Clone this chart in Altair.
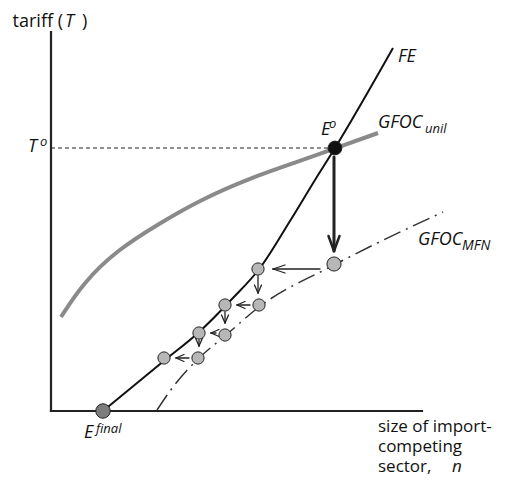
import altair as alt
import pandas as pd
import numpy as np

# ---- data (arbitrary units: n = size of import-competing sector, T = tariff) ----
fe_n = [52, 114, 147, 181, 209, 239, 264, 284, 342]
fe_T = [0, 51, 78, 112, 143, 190, 231, 263, 363]

mfn_n = [106, 119, 147, 174, 208, 283, 392]
mfn_T = [1, 20, 52, 75, 104, 146, 199]

unil_n = [10, 32, 66, 109, 149, 199, 249, 285, 327]
unil_T = [94, 128, 161, 188, 211, 233, 250, 263, 278]

# adjustment path: points on FE and on GFOC_MFN
fe_pts_n = [207, 174, 148, 113]
fe_pts_T = [142, 106, 78, 53]
mfn_pts_n = [283, 208, 174, 147]
mfn_pts_T = [147, 106, 76, 53]

eo_n, eo_T = 284, 263
efin_n, efin_T = 52, 0

axis_n_max = 371
axis_T_max = 379

FONT = "Open Sans"

xs = alt.Scale(domain=[-43, 450])
ys = alt.Scale(domain=[-66, 403])


def seg_df(segs):
    return pd.DataFrame(segs, columns=["x", "y", "x2", "y2", "w"])


def arrow(sx, sy, tx, ty, w, L, W, hw):
    d = np.array([tx - sx, ty - sy], dtype=float)
    d /= np.linalg.norm(d)
    p = np.array([-d[1], d[0]])
    back = np.array([tx, ty]) - L * d
    a = back + W * p
    b = back - W * p
    return [
        (sx, sy, tx, ty, w),
        (tx, ty, a[0], a[1], hw),
        (tx, ty, b[0], b[1], hw),
    ]


segs = []
# big arrow E0 -> first MFN point
segs += arrow(mfn_pts_n[0], eo_T - 9, mfn_pts_n[0], mfn_pts_T[0] + 13, 3, 15, 5.5, 2.5)
for k in range(len(fe_pts_n)):
    big = k == 0
    # left arrow: MFN point k -> FE point k
    segs += arrow(mfn_pts_n[k] - (14 if big else 9), fe_pts_T[k],
                  fe_pts_n[k] + (15 if big else 12), fe_pts_T[k],
                  1.3, 12 if big else 8, 4 if big else 3.5, 1.3)
    # down arrow: FE point k -> MFN point k+1
    if k + 1 < len(mfn_pts_n):
        segs += arrow(fe_pts_n[k], fe_pts_T[k] - 7, fe_pts_n[k], mfn_pts_T[k + 1] + 12,
                      1.3, 8, 3.5, 1.3)
arrows = seg_df(segs)

axes_df = seg_df([(0, 0, 0, axis_T_max, 2.2), (0, 0, axis_n_max, 0, 2.2)])
dash_df = seg_df([(0, eo_T, eo_n, eo_T, 1.2)])

enc_seg = dict(
    x=alt.X("x:Q", scale=xs, axis=None),
    y=alt.Y("y:Q", scale=ys, axis=None),
    x2="x2:Q", y2="y2:Q",
    strokeWidth=alt.StrokeWidth("w:Q", scale=None),
)

axes_layer = alt.Chart(axes_df).mark_rule(color="#222", strokeCap="square").encode(**enc_seg)
dash_layer = alt.Chart(dash_df).mark_rule(color="#222", strokeDash=[4, 3]).encode(**enc_seg)
arrow_layer = alt.Chart(arrows).mark_rule(color="#222", strokeCap="round").encode(**enc_seg)


def curve(n, T, interp, **kw):
    df = pd.DataFrame({"n": n, "T": T, "o": range(len(n))})
    return alt.Chart(df).mark_line(interpolate=interp, **kw).encode(
        x=alt.X("n:Q", scale=xs, axis=None),
        y=alt.Y("T:Q", scale=ys, axis=None),
        order="o:Q",
    )


unil_layer = curve(unil_n, unil_T, "basis", color="#8a8a8a", strokeWidth=4)
mfn_layer = curve(mfn_n, mfn_T, "monotone", color="#333", strokeWidth=1.5,
                  strokeDash=[18, 6, 2, 6])
fe_layer = curve(fe_n, fe_T, "monotone", color="#111", strokeWidth=2)

pts = pd.DataFrame({
    "n": fe_pts_n + mfn_pts_n + [eo_n, efin_n],
    "T": fe_pts_T + mfn_pts_T + [eo_T, efin_T],
    "fill": ["#b7b7b7"] * 8 + ["#111111", "#7c7c7c"],
    "size": [150, 150, 150, 150, 200, 150, 150, 150, 190, 210],
})
pts_layer = alt.Chart(pts).mark_point(filled=True, shape="circle", stroke="#222",
                                      strokeWidth=1, opacity=1).encode(
    x=alt.X("n:Q", scale=xs, axis=None),
    y=alt.Y("T:Q", scale=ys, axis=None),
    fill=alt.Fill("fill:N", scale=None),
    size=alt.Size("size:Q", scale=None),
)

# ---- labels ----
lab_text = ["tariff (", ")", "size of import-", "competing", "sector,",
            "T", "T", "FE", "GFOC", "GFOC", "E", "E", "n",
            "o", "unil", "MFN", "o", "final"]
lab_x = [12, 31, 327, 327, 327,
         14, -23, 347, 327, 367, 270, 33, 401,
         -11, 374, 411, 278, 45]
lab_y = [384, 384, -21, -41, -61,
         384, 259, 349, 283, 166, 276, -27, -61,
         265, 278, 161, 283, -22]
lab_size = [18, 18, 17, 17, 17,
            18, 18, 18, 18, 18, 18, 18, 17,
            13, 13, 14, 13, 13]
lab_style = ["normal"] * 5 + ["italic"] * 13
lab_align = ["right"] + ["left"] * 17

labels = pd.DataFrame({"x": lab_x, "y": lab_y, "t": lab_text, "s": lab_size,
                       "st": lab_style, "al": lab_align})


def text_layer(style, align):
    sub = labels[(labels.st == style) & (labels.al == align)]
    return alt.Chart(sub).mark_text(
        align=align, baseline="alphabetic", font=FONT, fontStyle=style, color="#111"
    ).encode(
        x=alt.X("x:Q", scale=xs, axis=None),
        y=alt.Y("y:Q", scale=ys, axis=None),
        text="t:N",
        size=alt.Size("s:Q", scale=None),
    )


chart = alt.layer(
    axes_layer, dash_layer, unil_layer, mfn_layer, fe_layer, arrow_layer, pts_layer,
    text_layer("normal", "left"), text_layer("normal", "right"), text_layer("italic", "left"),
).properties(
    width=493, height=469, padding=0, autosize=alt.AutoSizeParams(type="none"),
    background="white",
).configure_view(stroke=None)

chart.save("out.html", embed_options={"renderer": "svg", "actions": False})
